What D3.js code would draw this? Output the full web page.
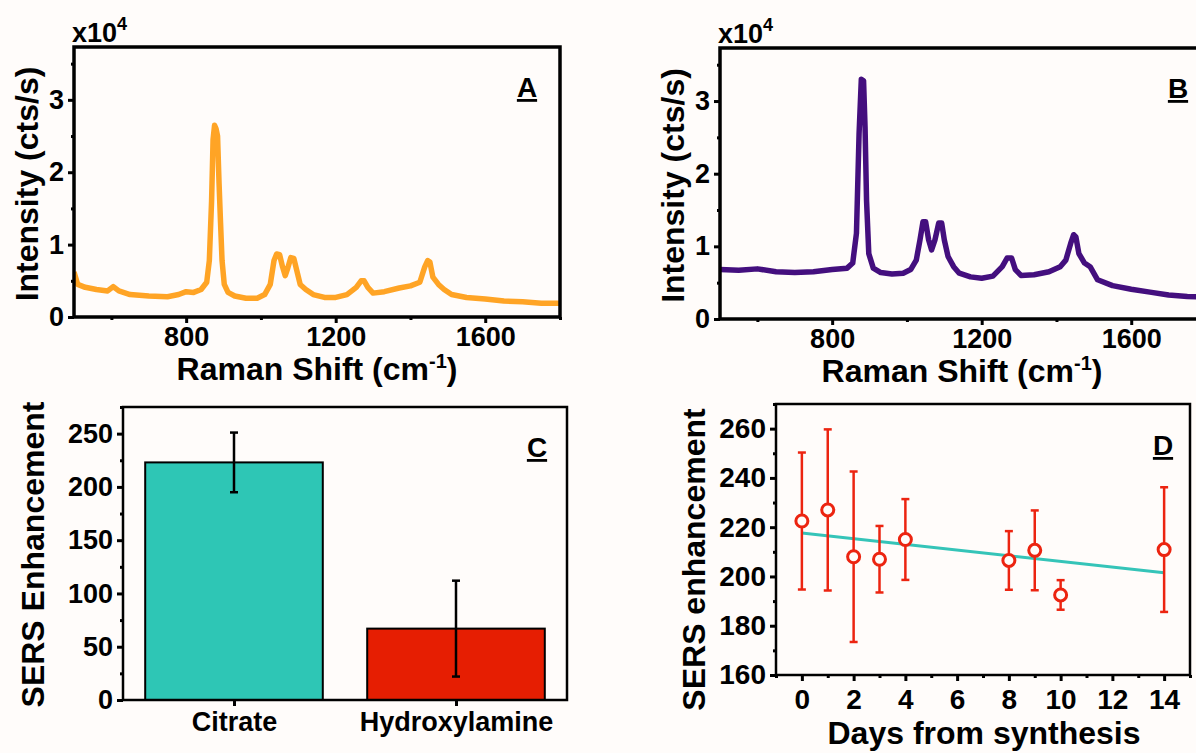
<!DOCTYPE html>
<html>
<head>
<meta charset="utf-8">
<script src="https://cdn.jsdelivr.net/npm/d3@7"></script>
<style>
  body { margin: 0; background: #fffcfa; }
  svg text { font-family: "Liberation Sans", Arial, sans-serif; font-weight: bold; fill: #000; }
</style>
</head>
<body>
<svg id="chart"></svg>
<script>
const width = 1196;
const height = 753;

// ---- data ----
// Panel A: Raman spectrum (citrate), intensity in units of 10^4 cts/s
const shiftA = [500, 510, 530, 560, 590, 605, 620, 650, 700, 750, 780, 800, 820, 840, 855, 862, 868, 872, 876, 880, 884, 888, 892, 896, 902, 912, 930, 960, 990, 1010, 1025, 1035, 1042, 1050, 1058, 1065, 1072, 1080, 1088, 1096, 1105, 1120, 1140, 1170, 1200, 1230, 1255, 1268, 1276, 1286, 1300, 1330, 1370, 1400, 1425, 1438, 1446, 1452, 1460, 1475, 1490, 1510, 1550, 1600, 1650, 1700, 1750, 1800];
const intensityA = [0.62, 0.45, 0.41, 0.38, 0.36, 0.42, 0.36, 0.31, 0.29, 0.28, 0.31, 0.35, 0.34, 0.38, 0.48, 0.78, 1.6, 2.45, 2.65, 2.6, 2.5, 1.85, 1.3, 0.78, 0.45, 0.34, 0.29, 0.26, 0.26, 0.31, 0.45, 0.78, 0.87, 0.86, 0.69, 0.57, 0.68, 0.82, 0.81, 0.64, 0.45, 0.38, 0.31, 0.27, 0.27, 0.31, 0.41, 0.5, 0.5, 0.41, 0.33, 0.35, 0.40, 0.43, 0.48, 0.69, 0.78, 0.76, 0.55, 0.45, 0.38, 0.31, 0.27, 0.25, 0.22, 0.21, 0.19, 0.19];

// Panel B: Raman spectrum (hydroxylamine)
const shiftB = [500, 550, 600, 650, 700, 750, 800, 840, 855, 865, 872, 878, 884, 888, 892, 898, 910, 930, 960, 990, 1010, 1025, 1035, 1043, 1050, 1058, 1066, 1075, 1085, 1093, 1100, 1110, 1125, 1140, 1170, 1200, 1230, 1255, 1268, 1280, 1290, 1305, 1340, 1380, 1410, 1425, 1438, 1446, 1452, 1460, 1475, 1490, 1510, 1550, 1600, 1650, 1700, 1750, 1800];
const intensityB = [0.68, 0.67, 0.69, 0.65, 0.64, 0.65, 0.68, 0.70, 0.77, 1.18, 2.55, 3.3, 3.28, 2.64, 1.63, 0.9, 0.70, 0.64, 0.62, 0.63, 0.68, 0.81, 1.09, 1.34, 1.34, 1.09, 0.95, 1.09, 1.32, 1.32, 1.09, 0.86, 0.72, 0.63, 0.58, 0.56, 0.59, 0.72, 0.84, 0.84, 0.68, 0.60, 0.61, 0.65, 0.72, 0.81, 1.04, 1.16, 1.13, 0.90, 0.77, 0.72, 0.54, 0.46, 0.41, 0.37, 0.33, 0.31, 0.30];

const spectrumTicks = [800, 1200, 1600];
const spectrumMinor = [600, 1000, 1400, 1800];
const intensityTicks = [0, 1, 2, 3];

// Panel C: bar chart
const categories = ['Citrate', 'Hydroxylamine'];
const enhancement = [223, 67];
const enhancementErr = [28, 45];
const barColors = ['#2ec6b5', '#e61e02'];

// Panel D: enhancement vs days
const days = [0, 1, 2, 3, 4, 8, 9, 10, 14];
const dayEnhancement = [222.5, 227, 208, 207, 215, 206.5, 210.6, 192.5, 210.9];
const dayErr = [27.8, 32.7, 34.6, 13.5, 16.4, 11.9, 16.2, 6, 25.3];
const fitIntercept = 217.6;
const fitSlope = -1.15;

const svg = d3.select('svg#chart').attr('width', width).attr('height', height);

// style helper for tick groups
function styleAxis(g, fontSize) {
    g.select('.domain').remove();
    g.selectAll('.tick line').attr('stroke', '#000').attr('stroke-width', 3);
    g.selectAll('.tick text').attr('font-size', fontSize).attr('fill', '#000');
}

// add superscript to a text element
function addSup(textSel, base, sup, after, supSize) {
    textSel.append('tspan').text(base);
    textSel.append('tspan').attr('dy', -12).attr('font-size', supSize).text(sup);
    if (after) textSel.append('tspan').attr('dy', 12).text(after);
}

function drawSpectrum(frame, shift, intensity, color, letter) {
    const g = svg.append('g');
    const x = d3.scaleLinear().domain([500, 1800]).range([frame.left, frame.right]);
    const y = d3.scaleLinear().domain([0, 3.73]).range([frame.bottom, frame.top]);

    const clipId = 'clip' + letter;
    g.append('clipPath').attr('id', clipId)
        .append('rect')
        .attr('x', frame.left).attr('y', frame.top)
        .attr('width', frame.right - frame.left).attr('height', frame.bottom - frame.top);

    const line = d3.line().x(d => x(d[0])).y(d => y(d[1]));
    g.append('path')
        .datum(d3.zip(shift, intensity))
        .attr('clip-path', 'url(#' + clipId + ')')
        .attr('d', line)
        .attr('fill', 'none')
        .attr('stroke', color)
        .attr('stroke-width', 5.5)
        .attr('stroke-linejoin', 'round');

    // axes
    g.append('g').attr('transform', `translate(0,${frame.bottom})`)
        .call(d3.axisBottom(x).tickValues(spectrumTicks).tickSize(6).tickPadding(4).tickFormat(d3.format('d')))
        .call(a => styleAxis(a, 27));
    g.append('g').attr('transform', `translate(0,${frame.bottom})`)
        .call(d3.axisBottom(x).tickValues(spectrumMinor).tickSize(3).tickFormat(''))
        .call(a => styleAxis(a, 27));
    g.append('g').attr('transform', `translate(${frame.left},0)`)
        .call(d3.axisLeft(y).tickValues(intensityTicks).tickSize(6).tickPadding(4).tickFormat(d3.format('d')))
        .call(a => styleAxis(a, 27));
    g.append('g').attr('transform', `translate(${frame.left},0)`)
        .call(d3.axisLeft(y).tickValues([0.5, 1.5, 2.5, 3.5]).tickSize(3).tickFormat(''))
        .call(a => styleAxis(a, 27));

    g.append('rect')
        .attr('x', frame.left).attr('y', frame.top)
        .attr('width', frame.right - frame.left).attr('height', frame.bottom - frame.top)
        .attr('fill', 'none').attr('stroke', '#000').attr('stroke-width', 3.5);

    // x10^4 multiplier
    const mult = g.append('text').attr('x', frame.left - 2).attr('y', frame.top - 5).attr('font-size', 27);
    addSup(mult, 'x10', '4', null, 18);

    // axis titles
    const xt = g.append('text')
        .attr('x', (frame.left + frame.right) / 2 - (letter === 'B' ? 1 : 0))
        .attr('y', frame.bottom + 63)
        .attr('text-anchor', 'middle').attr('font-size', 32);
    addSup(xt, 'Raman Shift (cm', '-1', ')', 20);

    g.append('text')
        .attr('transform', `translate(${frame.left - 36},${(frame.top + frame.bottom) / 2 + 2}) rotate(-90)`)
        .attr('text-anchor', 'middle').attr('font-size', 32)
        .text('Intensity (cts/s)');

    g.append('text')
        .attr('x', frame.letterX).attr('y', frame.top + 50)
        .attr('text-anchor', 'middle').attr('font-size', 28)
        .attr('text-decoration', 'underline')
        .text(letter);
}

drawSpectrum({ left: 74, right: 560, top: 47, bottom: 317, letterX: 527 }, shiftA, intensityA, '#ffa425', 'A');
drawSpectrum({ left: 720, right: 1206, top: 48, bottom: 319, letterX: 1178 }, shiftB, intensityB, '#440f7e', 'B');

// ---- Panel C ----
function drawBars() {
    const frame = { left: 123, right: 567, top: 407, bottom: 700 };
    const g = svg.append('g');
    const x = d3.scaleLinear().domain([0.5, 2.5]).range([frame.left, frame.right]);
    const y = d3.scaleLinear().domain([0, 275]).range([frame.bottom, frame.top]);
    const bw = x(1.4) - x(0.6);

    g.selectAll('rect.bar')
        .data(enhancement)
        .enter().append('rect')
        .attr('class', 'bar')
        .attr('x', (d, i) => x(i + 1) - bw / 2)
        .attr('y', d => y(d))
        .attr('width', bw)
        .attr('height', d => y(0) - y(d))
        .attr('fill', (d, i) => barColors[i])
        .attr('stroke', '#000')
        .attr('stroke-width', 2);

    const err = g.selectAll('g.err')
        .data(enhancement)
        .enter().append('g').attr('class', 'err')
        .attr('stroke', '#000').attr('stroke-width', 2.5);
    err.append('line')
        .attr('x1', (d, i) => x(i + 1)).attr('x2', (d, i) => x(i + 1))
        .attr('y1', (d, i) => y(d + enhancementErr[i])).attr('y2', (d, i) => y(d - enhancementErr[i]));
    err.append('line')
        .attr('x1', (d, i) => x(i + 1) - 4).attr('x2', (d, i) => x(i + 1) + 4)
        .attr('y1', (d, i) => y(d + enhancementErr[i])).attr('y2', (d, i) => y(d + enhancementErr[i]));
    err.append('line')
        .attr('x1', (d, i) => x(i + 1) - 4).attr('x2', (d, i) => x(i + 1) + 4)
        .attr('y1', (d, i) => y(d - enhancementErr[i])).attr('y2', (d, i) => y(d - enhancementErr[i]));

    g.append('g').attr('transform', `translate(0,${frame.bottom})`)
        .call(d3.axisBottom(x).tickValues([1, 2]).tickSize(6).tickPadding(6).tickFormat((d, i) => categories[i]))
        .call(a => styleAxis(a, 27));
    g.append('g').attr('transform', `translate(${frame.left},0)`)
        .call(d3.axisLeft(y).tickValues([0, 50, 100, 150, 200, 250]).tickSize(6).tickPadding(4))
        .call(a => styleAxis(a, 27));
    g.append('g').attr('transform', `translate(${frame.left},0)`)
        .call(d3.axisLeft(y).tickValues([25, 75, 125, 175, 225, 275]).tickSize(3).tickFormat(''))
        .call(a => styleAxis(a, 27));

    g.append('rect')
        .attr('x', frame.left).attr('y', frame.top)
        .attr('width', frame.right - frame.left).attr('height', frame.bottom - frame.top)
        .attr('fill', 'none').attr('stroke', '#000').attr('stroke-width', 2.5);

    g.append('text')
        .attr('transform', `translate(44,${(frame.top + frame.bottom) / 2 + 1}) rotate(-90)`)
        .attr('text-anchor', 'middle').attr('font-size', 32)
        .text('SERS Enhancement');

    g.append('text')
        .attr('x', 537).attr('y', 457)
        .attr('text-anchor', 'middle').attr('font-size', 28)
        .attr('text-decoration', 'underline')
        .text('C');
}
drawBars();

// ---- Panel D ----
function drawDays() {
    const frame = { left: 776, right: 1190, top: 404, bottom: 675 };
    const g = svg.append('g');
    const x = d3.scaleLinear().domain([-1, 15]).range([frame.left, frame.right]);
    const y = d3.scaleLinear().domain([160, 270]).range([frame.bottom, frame.top]);

    // fit line
    g.append('line')
        .attr('x1', x(0)).attr('y1', y(fitIntercept))
        .attr('x2', x(14)).attr('y2', y(fitIntercept + fitSlope * 14))
        .attr('stroke', '#35c4b8').attr('stroke-width', 3);

    const pts = d3.zip(days, dayEnhancement, dayErr);
    const err = g.selectAll('g.err')
        .data(pts)
        .enter().append('g').attr('class', 'err')
        .attr('stroke', '#ec2410').attr('stroke-width', 2.5);
    err.append('line')
        .attr('x1', d => x(d[0])).attr('x2', d => x(d[0]))
        .attr('y1', d => y(d[1] + d[2])).attr('y2', d => y(d[1] - d[2]));
    err.append('line')
        .attr('x1', d => x(d[0]) - 4).attr('x2', d => x(d[0]) + 4)
        .attr('y1', d => y(d[1] + d[2])).attr('y2', d => y(d[1] + d[2]));
    err.append('line')
        .attr('x1', d => x(d[0]) - 4).attr('x2', d => x(d[0]) + 4)
        .attr('y1', d => y(d[1] - d[2])).attr('y2', d => y(d[1] - d[2]));

    g.selectAll('circle')
        .data(pts)
        .enter().append('circle')
        .attr('cx', d => x(d[0])).attr('cy', d => y(d[1]))
        .attr('r', 6)
        .attr('fill', '#fffcfa')
        .attr('stroke', '#ec2410')
        .attr('stroke-width', 3);

    g.append('g').attr('transform', `translate(0,${frame.bottom})`)
        .call(d3.axisBottom(x).tickValues([0, 2, 4, 6, 8, 10, 12, 14]).tickSize(6).tickPadding(8))
        .call(a => styleAxis(a, 28));
    g.append('g').attr('transform', `translate(0,${frame.bottom})`)
        .call(d3.axisBottom(x).tickValues([-1, 1, 3, 5, 7, 9, 11, 13, 15]).tickSize(3).tickFormat(''))
        .call(a => styleAxis(a, 28));
    g.append('g').attr('transform', `translate(${frame.left},0)`)
        .call(d3.axisLeft(y).tickValues([160, 180, 200, 220, 240, 260]).tickSize(6).tickPadding(4))
        .call(a => styleAxis(a, 28));
    g.append('g').attr('transform', `translate(${frame.left},0)`)
        .call(d3.axisLeft(y).tickValues([170, 190, 210, 230, 250, 270]).tickSize(3).tickFormat(''))
        .call(a => styleAxis(a, 28));

    g.append('rect')
        .attr('x', frame.left).attr('y', frame.top)
        .attr('width', frame.right - frame.left).attr('height', frame.bottom - frame.top)
        .attr('fill', 'none').attr('stroke', '#000').attr('stroke-width', 2.5);

    g.append('text')
        .attr('transform', `translate(705,${(frame.top + frame.bottom) / 2 + 20}) rotate(-90)`)
        .attr('text-anchor', 'middle').attr('font-size', 32)
        .text('SERS enhancement');

    g.append('text')
        .attr('x', 984).attr('y', 744)
        .attr('text-anchor', 'middle').attr('font-size', 32)
        .text('Days from synthesis');

    g.append('text')
        .attr('x', 1163).attr('y', 455)
        .attr('text-anchor', 'middle').attr('font-size', 28)
        .attr('text-decoration', 'underline')
        .text('D');
}
drawDays();
</script>
</body>
</html>
